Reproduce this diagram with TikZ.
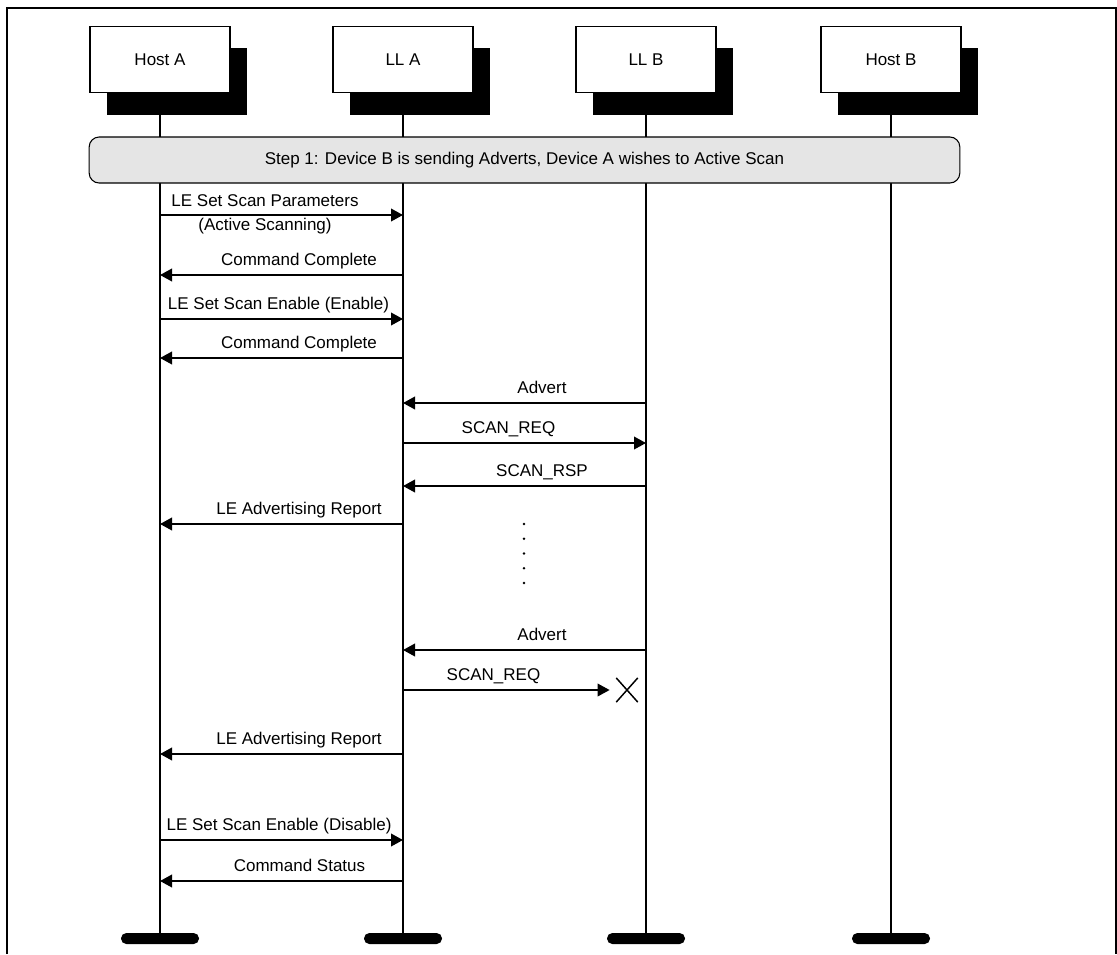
\documentclass[tikz,border=0pt]{standalone}
\usepackage{fontspec}
\setmainfont{Liberation Sans}
\usetikzlibrary{positioning, arrows.meta, shadows, shapes.misc}

\begin{document}
\begin{tikzpicture}[
		x=0.75pt, y=-0.75pt,
		>={Triangle[length=9pt, width=9.5pt]},
		font=\fontsize{12.75}{15}\selectfont,
		head/.style={draw, fill=white, line width=0.8pt, minimum width=105pt, minimum height=50pt, inner sep=0pt,
			general shadow={fill=black, shadow xshift=13pt, shadow yshift=-16.5pt}},
		endbar/.style={fill=black, rounded corners=4pt, minimum width=58.5pt, minimum height=8.25pt, inner sep=0pt},
		life/.style={line width=1pt},
		stepbar/.style={draw, fill=black!10, rounded corners=7.5pt, line width=0.8pt, minimum width=653pt, minimum height=34.5pt},
		msg/.style={->, line width=1.2pt},
		lbl/.style={anchor=base, inner sep=0pt},
		lost/.style={cross out, draw, line width=1.1pt, minimum width=15pt, minimum height=17pt, inner sep=0pt},
		frame/.style={line width=1.5pt}
		]
		
		\useasboundingbox (0,0) rectangle (1117,954);
		
		% outer frame, open at the bottom
		\draw[frame] (6.5,954) -- (6.5,8) -- (1115.5,8) -- (1115.5,954);
		
		% --- instances and their end bars ---
		\node[head] (hostA) at (160,59.5) {Host A};
		\node[head] (llA) at (403,59.5) {LL A};
		\node[head] (llB) at (646,59.5) {LL B};
		\node[head] (hostB) at (891,59.5) {Host B};
		
		\node[endbar] (hostAend) at (160,938.5) {};
		\node[endbar] (llAend) at (403,938.5) {};
		\node[endbar] (llBend) at (646,938.5) {};
		\node[endbar] (hostBend) at (891,938.5) {};
		
		% lifelines
		\draw[life] (hostA) -- (hostAend);
		\draw[life] (llA) -- (llAend);
		\draw[life] (llB) -- (llBend);
		\draw[life] (hostB) -- (hostBend);
		
		% step banner across all lifelines
		\node[stepbar] (step) at (524.5,160) {Step 1: Device B is sending Adverts, Device A wishes to Active Scan};
		
		% --- message rows ---
		\coordinate (r1) at (0,215);
		\coordinate (r2) at (0,275);
		\coordinate (r3) at (0,319);
		\coordinate (r4) at (0,358);
		\coordinate (r5) at (0,403);
		\coordinate (r6) at (0,443);
		\coordinate (r7) at (0,486);
		\coordinate (r8) at (0,524);
		\coordinate (r9) at (0,650);
		\coordinate (r11) at (0,754);
		\coordinate (r12) at (0,840);
		\coordinate (r13) at (0,881);
		
		% scanner setup
		\draw[msg] (hostA |- r1) -- (llA |- r1);
		\node[lbl] (t1a) at (265,206) {LE Set Scan Parameters};
		\node[lbl] (t1b) at (265,230) {(Active Scanning)};
		
		\draw[msg] (llA |- r2) -- (hostA |- r2);
		\node[lbl] (t2) at (299,265) {Command Complete};
		
		\draw[msg] (hostA |- r3) -- (llA |- r3);
		\node[lbl] (t3) at (278.5,309) {LE Set Scan Enable (Enable)};
		
		\draw[msg] (llA |- r4) -- (hostA |- r4);
		\node[lbl] (t4) at (299,348) {Command Complete};
		
		% air interface
		\draw[msg] (llB |- r5) -- (llA |- r5);
		\node[lbl] (t5) at (542,393) {Advert};
		
		\draw[msg] (llA |- r6) -- (llB |- r6);
		\node[lbl] (t6) at (508.5,433) {SCAN\_REQ};
		
		\draw[msg] (llB |- r7) -- (llA |- r7);
		\node[lbl] (t7) at (542,476) {SCAN\_RSP};
		
		\draw[msg] (llA |- r8) -- (hostA |- r8);
		\node[lbl] (t8) at (299,514) {LE Advertising Report};
		
		% time passes
		\foreach \y in {524,538.75,553.5,568.25,583}
		\fill (524,\y) circle (1pt);
		
		\draw[msg] (llB |- r9) -- (llA |- r9);
		\node[lbl] (t9) at (542,640) {Advert};
		
		% request that never arrives
		\node[lost] (lost) at (627,690) {};
		\draw[msg, shorten >=5pt] (llA |- lost) -- (lost.west);
		\node[lbl] (t10) at (493.5,680) {SCAN\_REQ};
		
		\draw[msg] (llA |- r11) -- (hostA |- r11);
		\node[lbl] (t11) at (299,744) {LE Advertising Report};
		
		% stop scanning
		\draw[msg] (hostA |- r12) -- (llA |- r12);
		\node[lbl] (t12) at (279,830) {LE Set Scan Enable (Disable)};
		
		\draw[msg] (llA |- r13) -- (hostA |- r13);
		\node[lbl] (t13) at (299.5,871) {Command Status};
		
	\end{tikzpicture}
\end{document}
